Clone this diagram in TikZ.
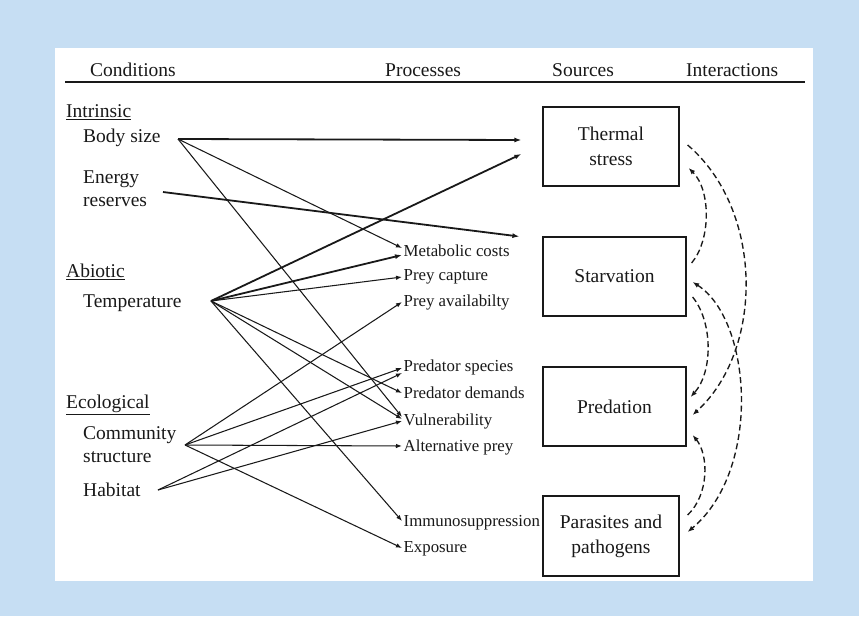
\documentclass[tikz,border=0pt]{standalone}
\usepackage{fontspec}
\setmainfont{Liberation Serif}
\usetikzlibrary{arrows.meta}
\definecolor{bgblue}{RGB}{198,222,243}
\definecolor{ink}{RGB}{25,25,25}
\begin{document}
\begin{tikzpicture}[x=1pt,y=-1pt,
  big/.style={font=\fontsize{19.5}{23}\selectfont, text=ink, inner sep=0pt, anchor=west, align=left},
  proc/.style={font=\fontsize{16.8}{20}\selectfont, text=ink, inner xsep=1.5pt, inner ysep=0pt, anchor=west},
  srcbox/.style={draw=ink, line width=1.2pt, inner sep=0pt, align=center,
     font=\fontsize{19.5}{25}\selectfont, text=ink},
  thinarr/.style={draw=ink, line width=1.05pt, -{Latex[length=6pt,width=4.5pt]}},
  thickarr/.style={draw=ink, line width=1.8pt, -{Latex[length=7pt,width=5pt]}},
  inter/.style={draw=ink, line width=1.35pt, dash pattern=on 6pt off 3.5pt,
     -{Latex[length=6.5pt,width=5pt]}},
]
\useasboundingbox (0,0) rectangle (859,616);
\fill[bgblue] (0,0) rectangle (859,616);
\fill[white] (55,48) rectangle (813,581);

% header
\node[big] (hcond) at (90,70) {Conditions};
\node[big] (hproc) at (385,70) {Processes};
\node[big] (hsrc) at (552,70) {Sources};
\node[big] (hint) at (686,70) {Interactions};
\draw[ink, line width=1.6pt] (65,82) -- (805,82);

% conditions
\node[big] (intr) at (66,112) {\underline{Intrinsic}};
\node[big] (bodysize) at (83,138) {Body size};
\node[big] (energy) at (83,189) {Energy\\reserves};
\node[big] (abio) at (66,272) {\underline{Abiotic}};
\node[big] (temp) at (83,303) {Temperature};
\node[big] (ecol) at (66,405) {\underline{Ecological}};
\node[big] (comm) at (83,445) {Community\\structure};
\node[big] (habitat) at (83,490) {Habitat};

\coordinate (bsP) at (178,139);
\coordinate (enP) at (163,192);
\coordinate (tpP) at (211,301);
\coordinate (cmP) at (185,445);
\coordinate (hbP) at (158,490);

% processes
\node[proc] (met) at (402,251) {Metabolic costs};
\node[proc] (cap) at (402,277) {Prey capture};
\node[proc] (avail) at (402,302) {Prey availabilty};
\node[proc] (pspec) at (402,367) {Predator species};
\node[proc] (pdem) at (402,393) {Predator demands};
\node[proc] (vuln) at (402,421) {Vulnerability};
\node[proc] (alt) at (402,447) {Alternative prey};
\node[proc] (immu) at (402,523) {Immunosuppression};
\node[proc] (expo) at (402,549) {Exposure};

% sources
\node[srcbox, minimum width=136pt, minimum height=79pt] (thermal) at (611,146.5) {Thermal\\stress};
\node[srcbox, minimum width=143pt, minimum height=79pt] (starv) at (614.5,276.5) {Starvation};
\node[srcbox, minimum width=143pt, minimum height=79pt] (pred) at (614.5,406.5) {Predation};
\node[srcbox, minimum width=136pt, minimum height=80pt] (paras) at (611,536) {Parasites and\\pathogens};

\coordinate (thA) at ([shift={(-21,-6.5)}]thermal.west);
\coordinate (thB) at ([shift={(-21,7.5)}]thermal.west);
\coordinate (stA) at ([shift={(-23,-40)}]starv.west);

% thick arrows to sources
\draw[thickarr] (bsP) -- (thA);
\draw[thickarr] (tpP) -- (thB);
\draw[thickarr] (enP) -- (stA);
\draw[thickarr] (tpP) -- ([shift={(0,4)}]met.west);

% body size
\draw[thinarr] (bsP) -- ([shift={(0,-3)}]met.west);
\draw[thinarr] (bsP) -- ([shift={(0,-4)}]vuln.west);
% temperature
\draw[thinarr] (tpP) -- (cap.west);
\draw[thinarr] (tpP) -- (pdem.west);
\draw[thinarr] (tpP) -- ([shift={(0,-2)}]vuln.west);
\draw[thinarr] (tpP) -- ([shift={(0,-2)}]immu.west);
% community structure
\draw[thinarr] (cmP) -- (avail.west);
\draw[thinarr] (cmP) -- ([shift={(0,1)}]pspec.west);
\draw[thinarr] (cmP) -- ([shift={(0,-1)}]alt.west);
\draw[thinarr] (cmP) -- ([shift={(0,-1)}]expo.west);
% habitat
\draw[thinarr] (hbP) -- ([shift={(0,6)}]pspec.west);
\draw[thinarr] (hbP) -- (vuln.west);

% interactions
\draw[inter] ([shift={(5,-13.5)}]starv.east) .. controls (711,240) and (711,190) .. ([shift={(9,21.5)}]thermal.east);
\draw[inter] ([shift={(8,-1.5)}]thermal.east) .. controls (764,210) and (764,350) .. ([shift={(6,8.5)}]pred.east);
\draw[inter, {Latex[length=6.5pt,width=5pt]}-{Latex[length=6.5pt,width=5pt]}] ([shift={(6,5.5)}]starv.east) .. controls (752,320) and (762,470) .. ([shift={(8,-4)}]paras.east);
\draw[inter] ([shift={(6,20.5)}]starv.east) .. controls (713,322) and (713,372) .. ([shift={(4,-9.5)}]pred.east);
\draw[inter] ([shift={(8,-21)}]paras.east) .. controls (709,495) and (709,455) .. ([shift={(6,28.5)}]pred.east);
\end{tikzpicture}
\end{document}
